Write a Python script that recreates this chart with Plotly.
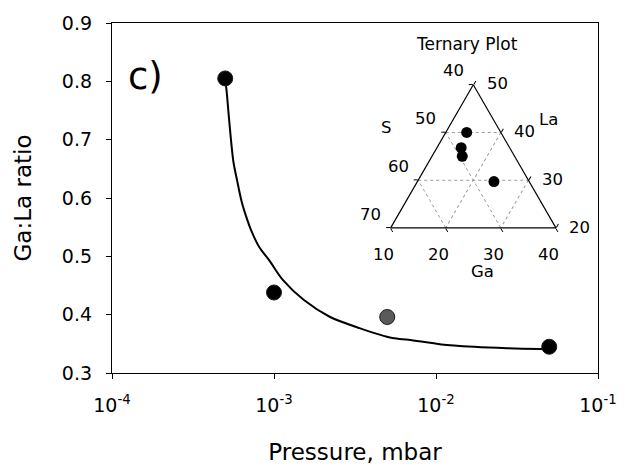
import plotly.graph_objects as go

# Ga:La ratio of films deposited at different background pressures
pressure = [5e-4, 1e-3, 5e-3, 5e-2]
ratio = [0.805, 0.438, 0.396, 0.345]
point_colors = ["black", "black", "#5a5a5a", "black"]

# fitted trend line (pressure, ratio)
fit_pressure = [5.0e-4, 5.13e-4, 5.23e-4, 5.61e-4, 5.93e-4, 6.30e-4, 6.72e-4,
                7.24e-4, 8.14e-4, 9.35e-4, 1.13e-3, 1.53e-3, 2.22e-3, 3.37e-3,
                5.38e-3, 6.78e-3, 1.08e-2, 1.72e-2, 2.74e-2, 4.38e-2, 5.0e-2]
fit_ratio = [0.805, 0.776, 0.748, 0.663, 0.629, 0.595, 0.569,
             0.544, 0.515, 0.493, 0.460, 0.425, 0.396, 0.377,
             0.360, 0.357, 0.349, 0.345, 0.3425, 0.341, 0.341]

# film compositions (at.%) for the ternary inset
tern_la = [29.7, 35.0, 36.8, 40.0]
tern_ga = [23.9, 15.5, 14.4, 13.8]
tern_s = [46.4, 49.5, 48.8, 46.2]

# ternary axis extents and tick labels
LA_MIN, S_MIN, GA_MIN = 20, 40, 10
TERN_SPAN = 100 - LA_MIN - S_MIN - GA_MIN
la_ticks = [50, 40, 30, 20]
s_ticks = [40, 50, 60, 70]
ga_ticks = [10, 20, 30, 40]

x_tickvals = [1e-4, 1e-3, 1e-2, 1e-1]
x_ticktext = ["10<sup>-4</sup>", "10<sup>-3</sup>", "10<sup>-2</sup>", "10<sup>-1</sup>"]

FONT = "DejaVu Sans, Arial, sans-serif"
TERN_DOMAIN_X = [0.5734, 0.9134]
TERN_DOMAIN_Y = [0.4128, 0.8253]


def tern_to_paper(la, s, ga):
    """Position of a composition inside the ternary domain, in paper units."""
    x0, x1 = TERN_DOMAIN_X
    y0, y1 = TERN_DOMAIN_Y
    fa = (la - LA_MIN) / TERN_SPAN
    fb = (s - S_MIN) / TERN_SPAN
    fc = (ga - GA_MIN) / TERN_SPAN
    x = fa * (x0 + x1) / 2 + fb * x0 + fc * x1
    y = fa * y1 + (fb + fc) * y0
    return x, y


fig = go.Figure()

fig.add_trace(go.Scatter(
    x=fit_pressure, y=fit_ratio, mode="lines",
    line=dict(color="black", width=2, shape="spline", smoothing=0.8),
    hoverinfo="skip", showlegend=False,
))
fig.add_trace(go.Scatter(
    x=pressure, y=ratio, mode="markers",
    marker=dict(size=15, color=point_colors, line=dict(color="#1a1a1a", width=1)),
    showlegend=False,
))

# ternary inset: data points
fig.add_trace(go.Scatterternary(
    a=tern_la, b=tern_s, c=tern_ga, mode="markers",
    marker=dict(size=11, color="black"), showlegend=False,
))

annotations = [dict(
    text="c)", xref="paper", yref="paper", x=0.029, y=0.846,
    xanchor="left", yanchor="middle", showarrow=False,
    font=dict(family=FONT, size=37, color="black"),
)]

INSET_SIZE = 16.5
tick_font = dict(family=FONT, size=INSET_SIZE, color="black")


def tern_label(text, la, s, ga, dx, dy):
    x, y = tern_to_paper(la, s, ga)
    annotations.append(dict(
        text=text, xref="paper", yref="paper", x=x, y=y,
        xanchor="center", yanchor="middle", xshift=dx, yshift=dy,
        showarrow=False, font=tick_font,
    ))


# La labels along the right edge (S at its minimum)
for v in la_ticks:
    tern_label(str(v), v, S_MIN, 100 - v - S_MIN, 24, 1)
# S labels along the left edge (Ga at its minimum)
for v in s_ticks:
    tern_label(str(v), 100 - v - GA_MIN, v, GA_MIN, -20, 14)
# Ga labels along the bottom edge (La at its minimum)
for v in ga_ticks:
    tern_label(str(v), LA_MIN, 100 - v - LA_MIN, v, -7, -26)

# component names and inset title
annotations += [
    dict(text="S", x=0.5639, y=0.7027),
    dict(text="La", x=0.8972, y=0.7237),
    dict(text="Ga", x=0.7633, y=0.2904),
    dict(text="Ternary Plot", x=0.7296, y=0.9396,
         font=dict(family=FONT, size=17, color="black")),
]
for ann in annotations[-4:]:
    ann.update(xref="paper", yref="paper", xanchor="center", yanchor="middle", showarrow=False)
    ann.setdefault("font", tick_font)

tern_axis = dict(
    dtick=10, tick0=0, ticks="outside", ticklen=4, tickcolor="black",
    tickwidth=1, showticklabels=False, linecolor="black", linewidth=1.2,
    showgrid=True, gridcolor="#9a9a9a", gridwidth=1, griddash="dot",
    title=dict(text=""),
)

fig.update_layout(
    width=629, height=472,
    margin=dict(l=112, r=24, t=21, b=99),
    paper_bgcolor="white", plot_bgcolor="white",
    font=dict(family=FONT, size=19, color="black"),
    xaxis=dict(
        type="log", range=[-4, -1], tickvals=x_tickvals, ticktext=x_ticktext,
        ticks="outside", ticklen=5, tickwidth=1.2, tickcolor="black",
        showline=True, linecolor="black", linewidth=1.3, mirror=True,
        showgrid=False, zeroline=False, ticklabelstandoff=10,
        title=dict(text="Pressure, mbar", standoff=28),
    ),
    yaxis=dict(
        range=[0.3, 0.9], dtick=0.1, tickformat=".1f",
        ticks="outside", ticklen=5, tickwidth=1.2, tickcolor="black",
        showline=True, linecolor="black", linewidth=1.3, mirror=True,
        showgrid=False, zeroline=False, ticklabelstandoff=10,
        title=dict(text="Ga:La ratio", standoff=23),
    ),
    ternary=dict(
        sum=100,
        domain=dict(x=TERN_DOMAIN_X, y=TERN_DOMAIN_Y),
        bgcolor="rgba(0,0,0,0)",
        aaxis=dict(min=LA_MIN, **tern_axis),
        baxis=dict(min=S_MIN, **tern_axis),
        caxis=dict(min=GA_MIN, **tern_axis),
    ),
    annotations=annotations,
)

fig.write_html("out.html")
